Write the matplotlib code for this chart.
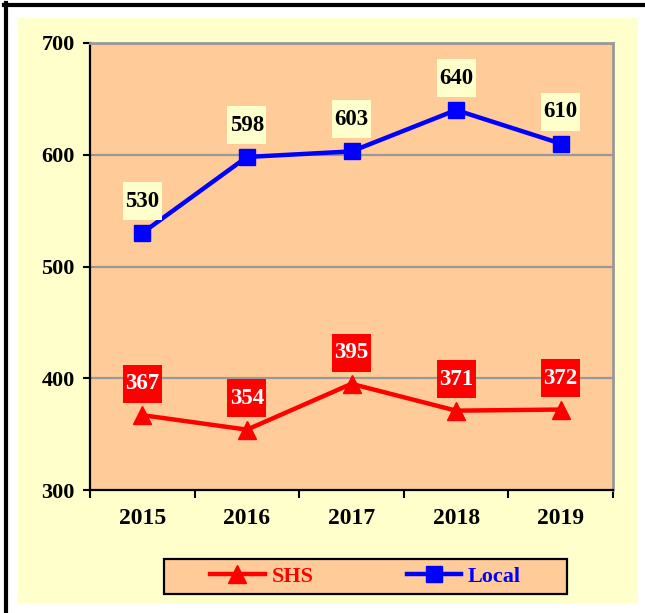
import matplotlib
matplotlib.use("Agg")
import matplotlib.pyplot as plt
from matplotlib.patches import Rectangle
from matplotlib.lines import Line2D
from matplotlib.path import Path

years = ["2015", "2016", "2017", "2018", "2019"]
shs = [367, 354, 395, 371, 372]
local = [530, 598, 603, 640, 610]
yticks = [300, 400, 500, 600, 700]

W, H = 645, 613
fig = plt.figure(figsize=(W / 100, H / 100), dpi=100, facecolor="white")

def fx(px):
    return px / W

def fy(py):
    return 1 - py / H

# yellow panel
fig.patches.append(Rectangle((fx(18), fy(603)), fx(638) - fx(18), fy(18) - fy(603),
                             transform=fig.transFigure, facecolor="#FFFFCC", edgecolor="none", zorder=0))
# black partial frame (left and top)
fig.lines.append(Line2D([fx(6), fx(6)], [fy(3), 0], transform=fig.transFigure, color="black", lw=3, zorder=1))
fig.lines.append(Line2D([fx(4), 1], [fy(5), fy(5)], transform=fig.transFigure, color="black", lw=3, zorder=1))

ax = fig.add_axes([fx(90), fy(490), fx(613) - fx(90), fy(43) - fy(490)])
ax.set_facecolor("#FFCC99")
ax.set_zorder(2)

x = list(range(len(years)))
font = "Liberation Serif"

ax.set_xlim(-0.5, len(years) - 0.5)
ax.set_ylim(300, 700)
ax.set_yticks(yticks)
ax.set_yticklabels([str(v) for v in yticks], fontsize=16, fontweight="bold", family=font)
for v in yticks[1:]:
    ax.axhline(v, color="#999999", lw=1.6, zorder=1)

ax.set_xticks([i - 0.5 for i in range(len(years) + 1)])
ax.set_xticklabels([])
ax.set_xticks(x, minor=True)
ax.set_xticklabels(years, minor=True, fontsize=17, fontweight="bold", family=font)
ax.tick_params(axis="x", which="major", direction="out", length=6, width=1.5, color="black")
ax.tick_params(axis="x", which="minor", length=0, pad=13)
ax.tick_params(axis="y", direction="out", length=5, width=1.5, color="black", pad=6)

for s in ["left", "bottom"]:
    ax.spines[s].set_color("black")
    ax.spines[s].set_linewidth(1.6)
for s in ["top", "right"]:
    ax.spines[s].set_color("#999999")
    ax.spines[s].set_linewidth(2)

ax.plot(x, local, color="#0000FF", lw=3.2, marker="s", markersize=11, zorder=4, label="Local", clip_on=False)
ax.plot(x, shs, color="#FF0000", lw=3.2, marker="^", markersize=12.5, zorder=4, label="SHS", clip_on=False)


def fixed_box(x0, y0, width, height, mutation_size, bw=39, bh=38):
    cx = x0 + width / 2
    cy = y0 + height / 2
    l, r = cx - bw / 2, cx + bw / 2
    b, t = cy - bh / 2, cy + bh / 2
    return Path([(l, b), (r, b), (r, t), (l, t), (l, b)], closed=True)


for xi, v in zip(x, local):
    ax.annotate(str(v), (xi, v), xytext=(0, 23), textcoords="offset points",
                ha="center", va="center", fontsize=16.5, fontweight="bold", family=font,
                color="black", zorder=5,
                bbox=dict(boxstyle=fixed_box, facecolor="#FFFFCC", edgecolor="none"))
for xi, v in zip(x, shs):
    ax.annotate(str(v), (xi, v), xytext=(0, 22.5), textcoords="offset points",
                ha="center", va="center", fontsize=16.5, fontweight="bold", family=font,
                color="white", zorder=5,
                bbox=dict(boxstyle=fixed_box, facecolor="#FF0000", edgecolor="none"))

# legend box
fig.patches.append(Rectangle((fx(164), fy(594)), fx(567) - fx(164), fy(559) - fy(594),
                             transform=fig.transFigure, facecolor="#FFCC99", edgecolor="black", lw=1.6, zorder=3))
h_shs = Line2D([], [], color="#FF0000", lw=3.2, marker="^", markersize=12.5)
h_loc = Line2D([], [], color="#0000FF", lw=3.2, marker="s", markersize=11)
leg = fig.legend([h_shs, h_loc], ["SHS", "Local"], loc="center",
                 bbox_to_anchor=((fx(164) + fx(567)) / 2, (fy(559) + fy(594)) / 2),
                 ncol=2, frameon=False, handlelength=2.45, handletextpad=0.3, columnspacing=4.2,
                 prop={"family": font, "weight": "bold", "size": 16})
leg.set_zorder(4)
for t, c in zip(leg.get_texts(), ["#FF0000", "#0000FF"]):
    t.set_color(c)

fig.savefig("out.png", dpi=100, facecolor="white")
